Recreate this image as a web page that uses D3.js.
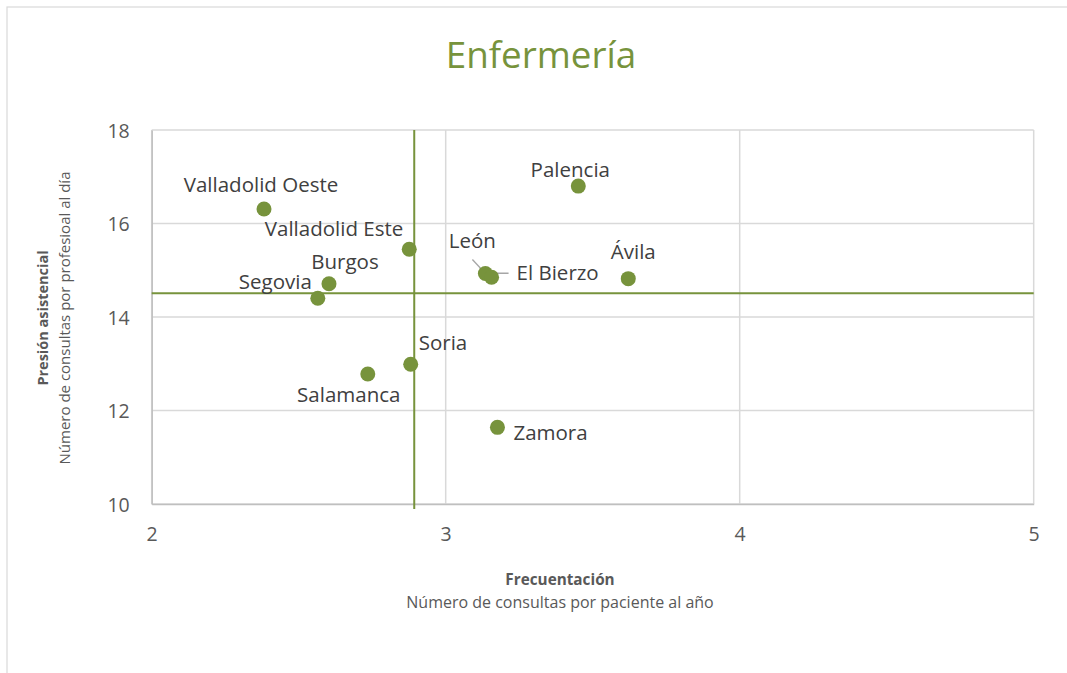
<!DOCTYPE html>
<html>
<head>
<meta charset="utf-8">
<script src="https://cdn.jsdelivr.net/npm/d3@7"></script>
<style>
  body { margin: 0; background: #fff; }
  svg { display: block; }
</style>
</head>
<body>
<svg id="chart" width="1067" height="673"></svg>
<script>
// data
const regions = ["Valladolid Oeste", "Valladolid Este", "Burgos", "Segovia", "Palencia",
                 "León", "El Bierzo", "Ávila", "Soria", "Salamanca", "Zamora"];
const frecuentacion = [2.382, 2.876, 2.603, 2.565, 3.451, 3.135, 3.156, 3.621, 2.881, 2.735, 3.176];
const presion = [16.31, 15.45, 14.71, 14.40, 16.80, 14.93, 14.85, 14.82, 12.99, 12.78, 11.64];
const xTicks = [2, 3, 4, 5];
const yTicks = [10, 12, 14, 16, 18];
const refX = 2.893;   // mean frecuentación
const refY = 14.51;   // mean presión

// label placement (pixel offsets from the dot, text anchor, optional leader)
const labelPos = {
  "Valladolid Oeste": { dx: -3, dy: -17, anchor: "middle" },
  "Valladolid Este":  { dx: -6, dy: -13, anchor: "end" },
  "Burgos":           { dx: 16, dy: -15, anchor: "middle" },
  "Segovia":          { dx: -6, dy: -9, anchor: "end" },
  "Palencia":         { dx: -8, dy: -9, anchor: "middle" },
  "León":             { dx: -13, dy: -26, anchor: "middle", leader: [-13, -14] },
  "El Bierzo":        { dx: 25, dy: 3, anchor: "start", leader: [17, -4] },
  "Ávila":            { dx: 5, dy: -20, anchor: "middle" },
  "Soria":            { dx: 8, dy: -14, anchor: "start" },
  "Salamanca":        { dx: -19, dy: 28, anchor: "middle" },
  "Zamora":           { dx: 16, dy: 13, anchor: "start" }
};

const green = "#77933c";
const margin = { left: 151.7, right: 1033.7, top: 130, bottom: 504 };

const svg = d3.select("svg#chart");
const font = "'Open Sans', 'Noto Sans', sans-serif";

// chart frame
svg.append("rect")
    .attr("x", 7).attr("y", 7)
    .attr("width", 1100).attr("height", 700)
    .attr("fill", "#fff")
    .attr("stroke", "#d9d9d9")
    .attr("stroke-width", 1.2);

const x = d3.scaleLinear().domain([2, 5]).range([margin.left, margin.right]);
const y = d3.scaleLinear().domain([10, 18]).range([margin.bottom, margin.top]);

// gridlines
const grid = svg.append("g").attr("stroke", "#d9d9d9").attr("stroke-width", 1.5);
grid.selectAll("line.h")
    .data(yTicks)
    .join("line")
    .attr("class", "h")
    .attr("x1", x(2)).attr("x2", x(5))
    .attr("y1", d => y(d)).attr("y2", d => y(d));
grid.selectAll("line.v")
    .data(xTicks)
    .join("line")
    .attr("class", "v")
    .attr("x1", d => x(d)).attr("x2", d => x(d))
    .attr("y1", y(10)).attr("y2", y(18));

// axes
const xAxis = svg.append("g")
    .attr("transform", `translate(0,${y(10)})`)
    .call(d3.axisBottom(x).tickValues(xTicks).tickSize(0).tickPadding(20).tickFormat(d3.format("d")));
const yAxis = svg.append("g")
    .attr("transform", `translate(${x(2)},0)`)
    .call(d3.axisLeft(y).tickValues(yTicks).tickSize(0).tickPadding(22).tickFormat(d3.format("d")));
[xAxis, yAxis].forEach(a => {
  a.select(".domain").attr("stroke", "#bfbfbf").attr("stroke-width", 1.5);
  a.selectAll("text")
      .attr("fill", "#595959")
      .style("font-family", font)
      .style("font-size", "19.5px");
});
xAxis.selectAll("text").attr("dy", "0.85em");
yAxis.selectAll("text").attr("dy", "0.36em");

// reference lines
svg.append("line")
    .attr("x1", x(2)).attr("x2", x(5))
    .attr("y1", y(refY)).attr("y2", y(refY))
    .attr("stroke", green).attr("stroke-width", 2);
svg.append("line")
    .attr("x1", x(refX)).attr("x2", x(refX))
    .attr("y1", y(18)).attr("y2", y(10) + 5)
    .attr("stroke", green).attr("stroke-width", 2);

const points = regions.map((name, i) => ({ name, fx: frecuentacion[i], py: presion[i] }));

// leader lines
svg.append("g")
    .attr("stroke", "#a6a6a6")
    .attr("stroke-width", 1.3)
    .attr("fill", "none")
    .selectAll("path")
    .data(points.filter(d => labelPos[d.name].leader))
    .join("path")
    .attr("d", d => {
      const cx = x(d.fx), cy = y(d.py);
      const [lx, ly] = labelPos[d.name].leader;
      if (lx > 0) return `M${cx + lx},${cy + ly}H${cx + 6}L${cx},${cy}`;
      return `M${cx + lx},${cy + ly}L${cx},${cy}`;
    });

// dots
svg.append("g")
    .selectAll("circle")
    .data(points)
    .join("circle")
    .attr("cx", d => x(d.fx))
    .attr("cy", d => y(d.py))
    .attr("r", 7.5)
    .attr("fill", green);

// data labels
svg.append("g")
    .selectAll("text")
    .data(points)
    .join("text")
    .attr("x", d => x(d.fx) + labelPos[d.name].dx)
    .attr("y", d => y(d.py) + labelPos[d.name].dy)
    .attr("text-anchor", d => labelPos[d.name].anchor)
    .attr("fill", "#404040")
    .style("font-family", font)
    .style("font-size", "20.5px")
    .text(d => d.name);

// title
svg.append("text")
    .attr("x", 541).attr("y", 68)
    .attr("text-anchor", "middle")
    .attr("fill", green)
    .style("font-family", font)
    .style("font-size", "36.8px")
    .text("Enfermería");

// axis titles
svg.append("text")
    .attr("x", 560).attr("y", 585)
    .attr("text-anchor", "middle")
    .attr("fill", "#595959")
    .style("font-family", font)
    .style("font-size", "15.3px")
    .style("font-weight", "bold")
    .text("Frecuentación");
svg.append("text")
    .attr("x", 560).attr("y", 608)
    .attr("text-anchor", "middle")
    .attr("fill", "#595959")
    .style("font-family", font)
    .style("font-size", "16px")
    .text("Número de consultas por paciente al año");

const yt = svg.append("g").attr("transform", "translate(0,318) rotate(-90)");
yt.append("text")
    .attr("x", 0).attr("y", 48)
    .attr("text-anchor", "middle")
    .attr("fill", "#595959")
    .style("font-family", font)
    .style("font-size", "14.5px")
    .style("font-weight", "bold")
    .text("Presión asistencial");
yt.append("text")
    .attr("x", 0).attr("y", 70)
    .attr("text-anchor", "middle")
    .attr("fill", "#595959")
    .style("font-family", font)
    .style("font-size", "15px")
    .text("Número de consultas por profesioal al día");
</script>
</body>
</html>
